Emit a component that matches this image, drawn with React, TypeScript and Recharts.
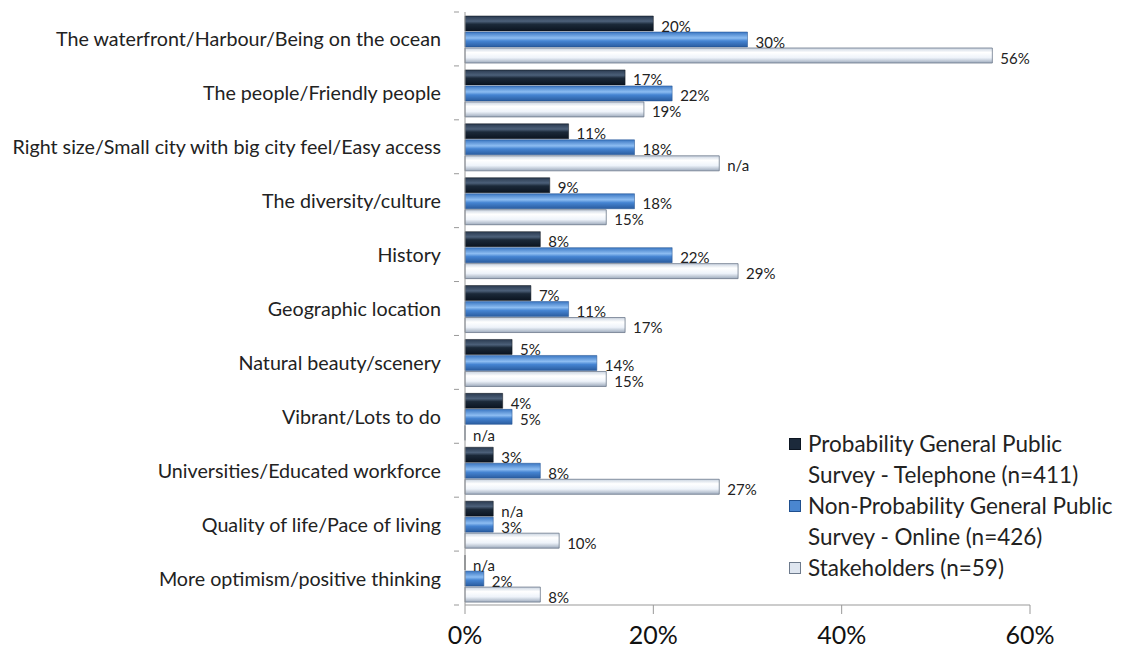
import React from "react";
import { BarChart, Bar, XAxis, YAxis, LabelList } from "recharts";

const categories = [
  "The waterfront/Harbour/Being on the ocean",
  "The people/Friendly people",
  "Right size/Small city with big city feel/Easy access",
  "The diversity/culture",
  "History",
  "Geographic location",
  "Natural beauty/scenery",
  "Vibrant/Lots to do",
  "Universities/Educated workforce",
  "Quality of life/Pace of living",
  "More optimism/positive thinking",
];
const telephone = [20, 17, 11, 9, 8, 7, 5, 4, 3, 3, 0];
const online = [30, 22, 18, 18, 22, 11, 14, 5, 8, 3, 2];
const stakeholders = [56, 19, 27, 15, 29, 17, 15, 0, 27, 10, 8];
const telephoneLabels = ["20%", "17%", "11%", "9%", "8%", "7%", "5%", "4%", "3%", "n/a", "n/a"];
const onlineLabels = ["30%", "22%", "18%", "18%", "22%", "11%", "14%", "5%", "8%", "3%", "2%"];
const stakeholderLabels = ["56%", "19%", "n/a", "15%", "29%", "17%", "15%", "n/a", "27%", "10%", "8%"];
const xTicks = [0, 20, 40, 60];
const seriesNames = [
  ["Probability General Public", "Survey - Telephone (n=411)"],
  ["Non-Probability General Public", "Survey - Online (n=426)"],
  ["Stakeholders (n=59)"],
];

const data = categories.map((c, i) => ({
  name: c,
  tel: telephone[i],
  onl: online[i],
  stk: stakeholders[i],
  telLabel: telephoneLabels[i],
  onlLabel: onlineLabels[i],
  stkLabel: stakeholderLabels[i],
}));

const FONT = "Lato, 'Open Sans', sans-serif";

const renderLabel = (props: any) => {
  const { x, y, width, height, value } = props;
  return (
    <text
      x={x + Math.max(width, 0) + 8}
      y={y + height / 2 + 2}
      dominantBaseline="central"
      fontSize={15}
      fontFamily={FONT}
      fill="#222"
    >
      {value}
    </text>
  );
};

const CategoryTick = (props: any) => {
  const { x, y, payload, index, visibleTicksCount } = props;
  const half = payload && payload.offset ? payload.offset : 27;
  const axisX = x + 18;
  return (
    <g>
      <line x1={axisX - 5} x2={axisX} y1={y - half} y2={y - half} stroke="#999" />
      {index === (visibleTicksCount ?? categories.length) - 1 && (
        <line x1={axisX - 5} x2={axisX} y1={y + half} y2={y + half} stroke="#999" />
      )}
      <text x={x} y={y} textAnchor="end" dominantBaseline="central" fontSize={19.7} fill="#222" fontFamily={FONT}>
        {payload.value}
      </text>
    </g>
  );
};

const swatchFill = ["#1c2a3b", "#4a86d0", "#dfe6f0"];
const swatchStroke = ["#0d1622", "#1f4f8f", "#6d7a8c"];

const LegendBox = () => (
  <div
    style={{
      position: "absolute",
      left: 788,
      top: 428,
      width: 335,
      fontFamily: FONT,
      fontSize: 22.5,
      color: "#222",
      lineHeight: "31px",
      whiteSpace: "nowrap",
    }}
  >
    {seriesNames.map((lines, i) => (
      <div key={i} style={{ position: "relative", paddingLeft: 20 }}>
        <svg width={12} height={12} style={{ position: "absolute", left: 1, top: 10 }}>
          <rect x={0.5} y={0.5} width={11} height={11} fill={swatchFill[i]} stroke={swatchStroke[i]} />
        </svg>
        {lines.map((t, j) => (
          <div key={j}>{t}</div>
        ))}
      </div>
    ))}
  </div>
);

export default function App() {
  return (
    <div style={{ position: "absolute", left: 0, top: 0, width: 1123, height: 652, background: "#fff" }}>
      <BarChart
        width={1123}
        height={652}
        data={data}
        layout="vertical"
        margin={{ top: 12, right: 93, bottom: 0, left: 0 }}
        barCategoryGap={4}
        barGap={1}
      >
        <defs>
          <linearGradient id="gTel" x1="0" y1="0" x2="0" y2="1">
            <stop offset="0%" stopColor="#2a3a50" />
            <stop offset="35%" stopColor="#4c6079" />
            <stop offset="55%" stopColor="#1b2939" />
            <stop offset="100%" stopColor="#0b1420" />
          </linearGradient>
          <linearGradient id="gOnl" x1="0" y1="0" x2="0" y2="1">
            <stop offset="0%" stopColor="#3a76c2" />
            <stop offset="40%" stopColor="#8dbdf2" />
            <stop offset="60%" stopColor="#4584d2" />
            <stop offset="100%" stopColor="#2a5c9f" />
          </linearGradient>
          <linearGradient id="gStk" x1="0" y1="0" x2="0" y2="1">
            <stop offset="0%" stopColor="#c9d3e0" />
            <stop offset="30%" stopColor="#ffffff" />
            <stop offset="65%" stopColor="#eef3fa" />
            <stop offset="100%" stopColor="#9eabbd" />
          </linearGradient>
        </defs>
        <XAxis
          type="number"
          domain={[0, 60]}
          ticks={xTicks}
          tickFormatter={(v: number) => `${v}%`}
          stroke="#999"
          height={47}
          tickSize={9}
          tickMargin={12}
          tick={{ fontSize: 25, fill: "#111", fontFamily: FONT }}
        />
        <YAxis
          type="category"
          dataKey="name"
          width={465}
          stroke="#999"
          tickLine={false}
          tickMargin={18}
          interval={0}
          tick={<CategoryTick />}
        />
        <Bar dataKey="tel" fill="url(#gTel)" stroke="#0a1018" strokeWidth={0.5} minPointSize={0.01} isAnimationActive={false}>
          <LabelList dataKey="telLabel" content={renderLabel} />
        </Bar>
        <Bar dataKey="onl" fill="url(#gOnl)" stroke="#1f4f8f" strokeWidth={0.5} minPointSize={0.01} isAnimationActive={false}>
          <LabelList dataKey="onlLabel" content={renderLabel} />
        </Bar>
        <Bar dataKey="stk" fill="url(#gStk)" stroke="#6d7a8c" strokeWidth={0.8} minPointSize={0.01} isAnimationActive={false}>
          <LabelList dataKey="stkLabel" content={renderLabel} />
        </Bar>
      </BarChart>
      <LegendBox />
    </div>
  );
}
